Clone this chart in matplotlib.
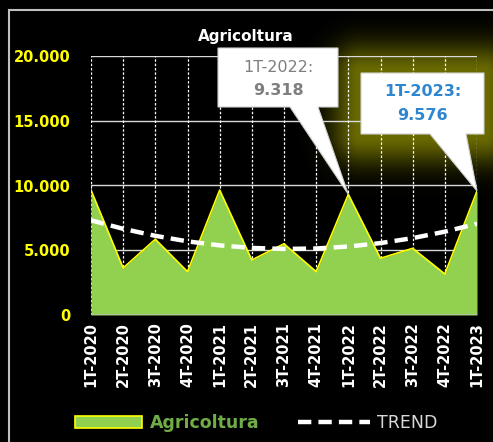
import numpy as np
import matplotlib.pyplot as plt
from matplotlib.lines import Line2D
from matplotlib.patches import Polygon, Rectangle
from matplotlib.transforms import Affine2D

quarters = ['1T-2020', '2T-2020', '3T-2020', '4T-2020',
            '1T-2021', '2T-2021', '3T-2021', '4T-2021',
            '1T-2022', '2T-2022', '3T-2022', '4T-2022', '1T-2023']
agricoltura = [9650, 3630, 5850, 3350, 9650, 4250, 5500, 3350,
               9318, 4380, 5150, 3170, 9576]
yticks = [0, 5000, 10000, 15000, 20000]
ytick_labels = ['0', '5.000', '10.000', '15.000', '20.000']

W, H = 493, 442
fig = plt.figure(figsize=(W / 100, H / 100), dpi=100, facecolor='black')
ax = fig.add_axes([91 / W, 1 - 315 / H, (477 - 91) / W, (315 - 56) / H], zorder=2)
ax.patch.set_alpha(0)

x = np.arange(len(quarters))
y = np.array(agricoltura, dtype=float)

# trend = polinomiale di 2 grado (come in Excel)
coef = np.polyfit(x, y, 2)
trend = np.polyval(coef, x)

ax.fill_between(x, 0, y, color='#92D050', zorder=3, lw=0)
ax.plot(x, y, color='#FFFF00', lw=1.2, zorder=4)
ax.plot(x, trend, color='white', lw=3.2, ls=(0, (3, 1.6)), zorder=5)

for v in yticks[1:]:
    ax.axhline(v, color='#D9D9D9', lw=1, zorder=1)
for xi in x:
    ax.axvline(xi, color='white', lw=0.9, ls=(0, (2, 1.5)), zorder=1)
ax.axhline(0, color='#BFBFBF', lw=1.8, zorder=6)

ax.set_xlim(0, 12)
ax.set_ylim(0, 20000)
ax.set_yticks(yticks)
ax.set_yticklabels(ytick_labels, color='#FFFF00', fontsize=10.5, fontweight='bold')
ax.set_xticks(x)
ax.set_xticklabels(quarters, rotation=90, color='white', fontsize=10.5, fontweight='bold')
ax.tick_params(length=0, pad=5)
ax.tick_params(axis='y', pad=15)
for s in ax.spines.values():
    s.set_visible(False)

fig.text(246 / W, 1 - 37 / H, 'Agricoltura', color='white', fontsize=11,
         fontweight='bold', ha='center', va='center')

# cornice esterna
fig.add_artist(Line2D([9 / W, 9 / W], [0, 1 - 10 / H], color='#BFBFBF', lw=1.5))
fig.add_artist(Line2D([9 / W, 1], [1 - 10 / H, 1 - 10 / H], color='#BFBFBF', lw=1.5))

# coordinate in pixel dell'immagine (y verso il basso)
pix = Affine2D().scale(1 / W, -1 / H).translate(0, 1) + fig.transFigure

fig.canvas.draw()


def tip_of(i):
    px, py = ax.transData.transform((x[i], y[i]))
    return px, H - py


# alone giallo attorno al secondo riquadro
gx0, gx1, gy0, gy1 = 361, 484, 73, 134
gy, gxx = np.mgrid[0:H, 0:W]
dx = np.maximum(np.maximum(gx0 - gxx, gxx - gx1), 0)
dy = np.maximum(np.maximum(gy0 - gy, gy - gy1), 0)
d = np.hypot(dx, dy)
alpha = np.clip(np.exp(-(d / 30.0) ** 2) * 0.6, 0, 1)
glow = np.zeros((H, W, 4))
glow[..., 0] = 0.7
glow[..., 1] = 0.7
glow[..., 3] = alpha
fig.figimage(glow, 0, 0, origin='upper', zorder=1)


def callout(box, base, i, lines):
    bx0, by0, bx1, by1 = box
    tx, ty = tip_of(i)
    pts = [(bx0, by0), (bx1, by0), (bx1, by1), (base[1], by1), (tx, ty),
           (base[0], by1), (bx0, by1)]
    fig.add_artist(Polygon(pts, closed=True, transform=pix, facecolor='white',
                           edgecolor='#D0D0D0', lw=0.8, zorder=10))
    for (txt, yy, col, wt) in lines:
        fig.text((bx0 + bx1) / 2 / W, 1 - yy / H, txt, color=col, fontsize=11.5,
                 fontweight=wt, ha='center', va='center', zorder=11)


callout((218, 48, 338, 107), (290, 318), 8,
        [('1T-2022:', 68, '#7F7F7F', 'normal'), ('9.318', 91, '#7F7F7F', 'bold')])
callout((361, 73, 484, 134), (430, 466), 12,
        [('1T-2023:', 92, '#2E86D0', 'bold'), ('9.576', 115, '#2E86D0', 'bold')])

# legenda
fig.add_artist(Rectangle((75, 416), 67, 12, transform=pix, facecolor='#92D050',
                         edgecolor='#FFFF00', lw=1.2))
fig.text(150 / W, 1 - 423 / H, 'Agricoltura', color='#70AD47', fontsize=12.5,
         fontweight='bold', va='center')
fig.add_artist(Line2D([298 / W, 370 / W], [1 - 422 / H, 1 - 422 / H], color='white',
                      lw=3.2, ls=(0, (3, 1.6))))
fig.text(377 / W, 1 - 423 / H, 'TREND', color='#D9D9D9', fontsize=12.5, va='center')

fig.savefig('out.png', dpi=100, facecolor='black')
